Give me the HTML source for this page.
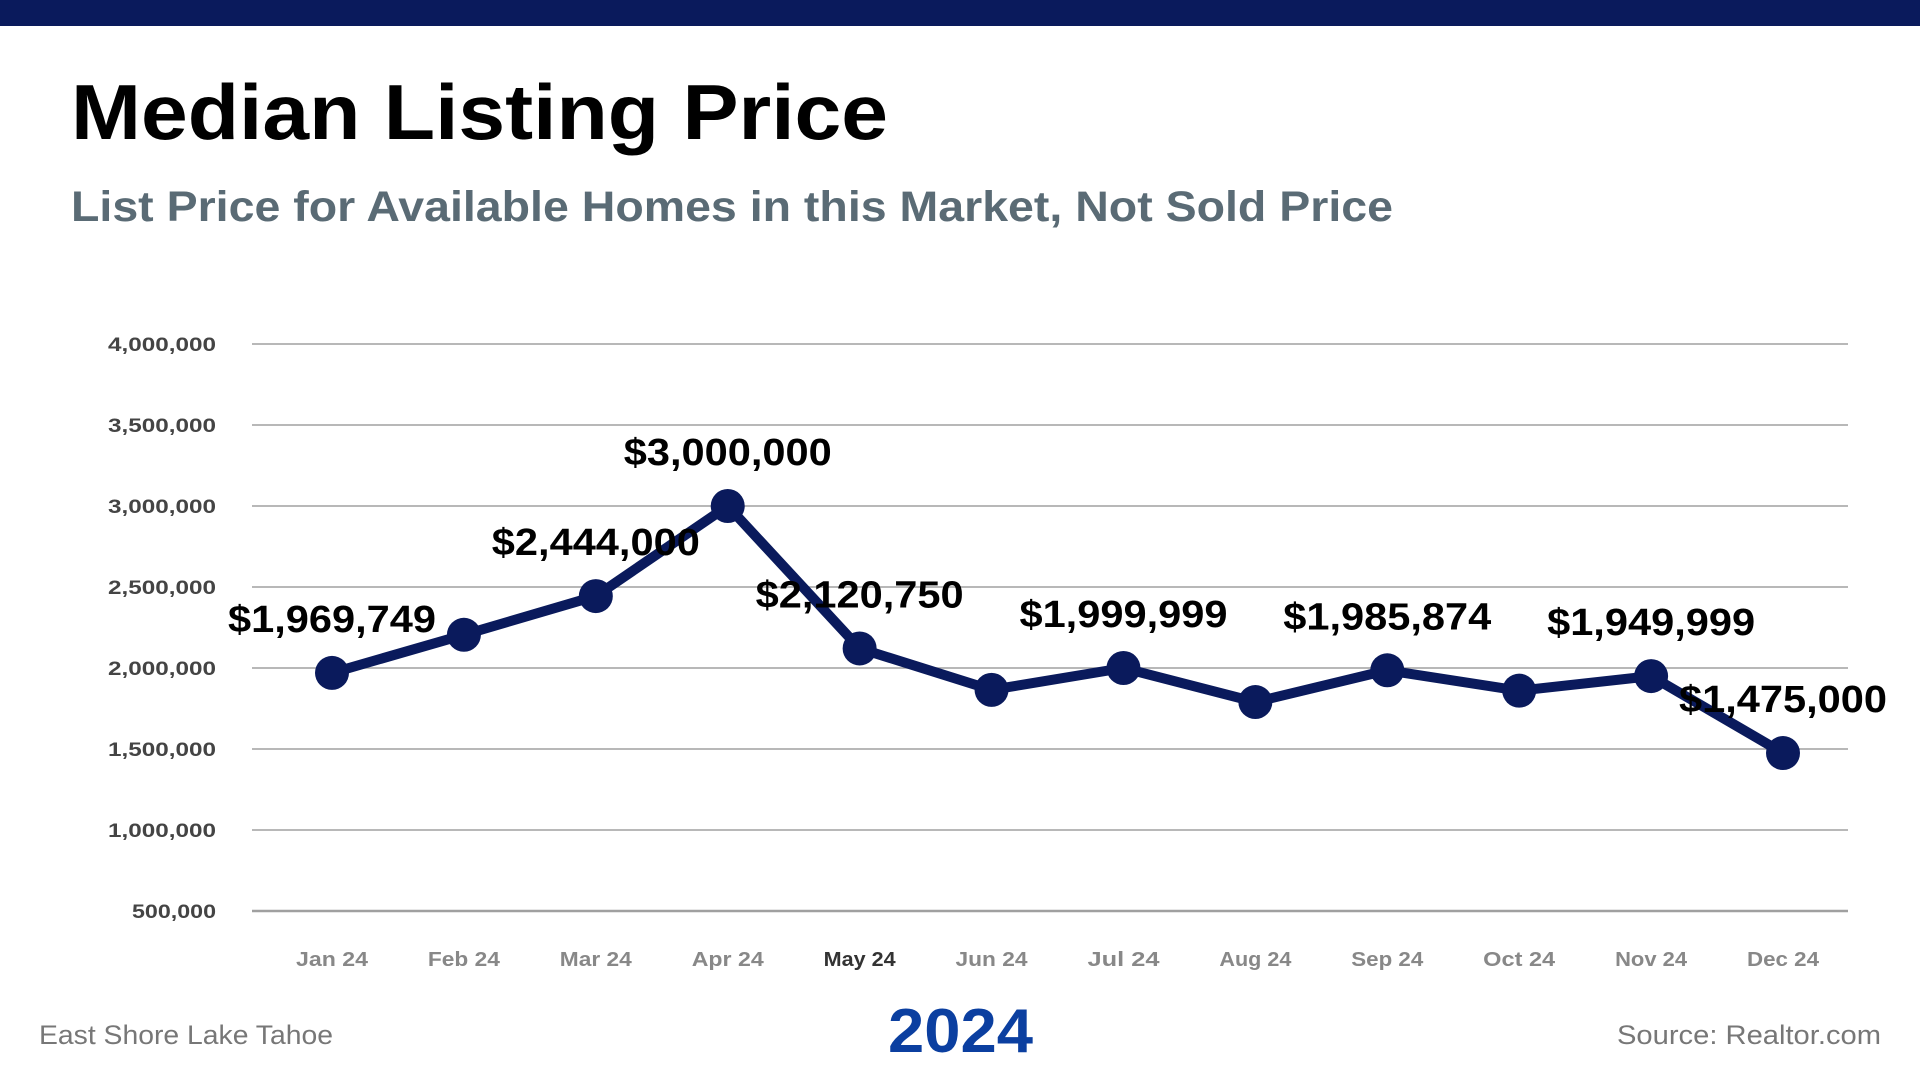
<!DOCTYPE html>
<html><head><meta charset="utf-8"><style>
html,body{margin:0;padding:0;background:#fff;}
svg{display:block;font-family:"Liberation Sans",sans-serif;}
</style></head><body>
<svg id="chart" width="1920" height="1080" viewBox="0 0 1920 1080">
<rect x="0" y="0" width="1920" height="26" fill="#0a1a5c"/>
<text x="71" y="139" font-size="78" font-weight="bold" fill="#000" textLength="817" lengthAdjust="spacingAndGlyphs">Median Listing Price</text>
<text x="71" y="221" font-size="43" font-weight="bold" fill="#5a6b75" textLength="1322" lengthAdjust="spacingAndGlyphs">List Price for Available Homes in this Market, Not Sold Price</text>
<g id="grid"></g><g id="yticks"></g><g id="xticks"></g><g id="series"></g><g id="labels"></g>
<text x="39" y="1044" font-size="27" fill="#777" textLength="294" lengthAdjust="spacingAndGlyphs">East Shore Lake Tahoe</text>
<text x="888" y="1052" font-size="62" font-weight="bold" fill="#0b3fa0" textLength="145" lengthAdjust="spacingAndGlyphs">2024</text>
<text x="1617" y="1044" font-size="27" fill="#777" textLength="264" lengthAdjust="spacingAndGlyphs">Source: Realtor.com</text>
</svg>
<script>
const categories=["Jan 24","Feb 24","Mar 24","Apr 24","May 24","Jun 24","Jul 24","Aug 24","Sep 24","Oct 24","Nov 24","Dec 24"];
const values=[1969749,2205000,2444000,3000000,2120750,1865000,1999999,1790000,1985874,1860000,1949999,1475000];
const pointLabels=["$1,969,749","","$2,444,000","$3,000,000","$2,120,750","","$1,999,999","","$1,985,874","","$1,949,999","$1,475,000"];
const yTicks=[500000,1000000,1500000,2000000,2500000,3000000,3500000,4000000];
const yTickLabels=["500,000","1,000,000","1,500,000","2,000,000","2,500,000","3,000,000","3,500,000","4,000,000"];
const NS="http://www.w3.org/2000/svg";
const yMin=500000,yMax=4000000,plotTop=344,plotBot=911,plotLeft=252,plotRight=1848;
const x0=332,x1=1783;
function yScale(v){return plotBot-(v-yMin)/(yMax-yMin)*(plotBot-plotTop);}
function xScale(i){return x0+i*(x1-x0)/(categories.length-1);}
function mk(tag,attrs,parent,txt){const e=document.createElementNS(NS,tag);for(const k in attrs)e.setAttribute(k,attrs[k]);if(txt!==undefined)e.textContent=txt;document.getElementById(parent).appendChild(e);return e;}
yTicks.forEach((t,i)=>{
  const y=yScale(t);
  const g=mk('line',{x1:plotLeft,x2:plotRight,y1:y,y2:y,stroke:'#a0a0a0','stroke-width':i===0?2.5:1.5},'grid');
  
  
  const w=yTickLabels[i].length*12;
  const l=mk('text',{x:216-w,y:y+7,'font-size':19.5,'font-weight':'bold',fill:'#444',textLength:w,lengthAdjust:'spacingAndGlyphs'},'yticks',yTickLabels[i]);
  
  
});
categories.forEach((c,i)=>{
  const w=72;
  const l=mk('text',{x:xScale(i)-w/2,y:966,'font-size':20,'font-weight':'bold',fill:i===4?'#333':'#888',textLength:w,lengthAdjust:'spacingAndGlyphs'},'xticks',c);
  
  
});
const pts=values.map((v,i)=>xScale(i)+','+yScale(v)).join(' ');
const pl=mk('polyline',{points:pts,fill:'none',stroke:'#0a1a5c','stroke-width':10,'stroke-linejoin':'round'},'series');


values.forEach((v,i)=>{
  const c=mk('circle',{cx:xScale(i),cy:yScale(v),r:17,fill:'#0a1a5c'},'series');
  
  
  if(pointLabels[i]){
    const w=208;
    const t=mk('text',{x:xScale(i)-w/2,y:yScale(v)-41,'font-size':38,'font-weight':'bold',fill:'#000',textLength:w,lengthAdjust:'spacingAndGlyphs'},'labels',pointLabels[i]);
    
    
  }
});
</script>
</body></html>
